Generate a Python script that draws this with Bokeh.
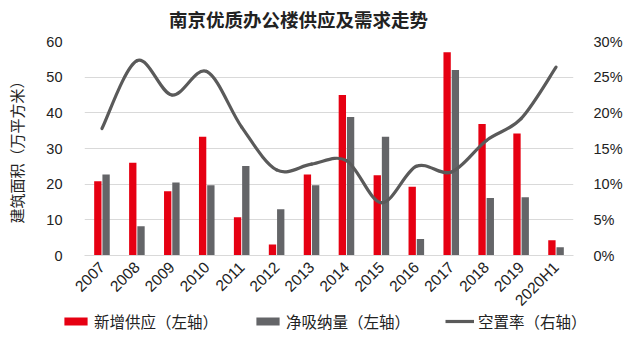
import numpy as np
from bokeh.plotting import figure
from bokeh.layouts import column
from bokeh.models import (Range1d, LinearAxis, FixedTicker, NumeralTickFormatter,
                          Legend, LegendItem, Label)
from bokeh.embed import file_html
from bokeh.resources import INLINE
from math import pi

years = ["2007", "2008", "2009", "2010", "2011", "2012", "2013", "2014",
         "2015", "2016", "2017", "2018", "2019", "2020H1"]
new_supply = [20.8, 26.0, 18.0, 33.3, 10.7, 3.1, 22.7, 45.0, 22.5, 19.3, 57.0, 36.9, 34.2, 4.3]
net_absorption = [22.7, 8.2, 20.5, 19.7, 25.1, 13.0, 19.7, 38.8, 33.3, 4.6, 52.0, 16.1, 16.3, 2.3]
vacancy = [0.178, 0.273, 0.225, 0.258, 0.180, 0.120, 0.128, 0.133, 0.074, 0.125, 0.117, 0.161, 0.192, 0.264]

left_ticks = [0, 10, 20, 30, 40, 50, 60]
right_ticks = [0, 0.05, 0.10, 0.15, 0.20, 0.25, 0.30]
legend_labels = ["新增供应（左轴）", "净吸纳量（左轴）", "空置率（右轴）"]
title_text = "南京优质办公楼供应及需求走势"

RED = "#E60012"
GREY = "#646568"
LINE = "#5A5A5A"
TXT = "#222222"
FONT = "Liberation Sans"
CJK = "Noto Sans CJK SC"

p = figure(width=640, height=348, output_backend="svg", toolbar_location=None,
           x_range=Range1d(-0.5, 13.5), y_range=Range1d(0, 60),
           min_border_left=84, min_border_right=67, min_border_top=41, min_border_bottom=93)
p.frame_align = False
p.outline_line_color = None
p.background_fill_color = "white"
p.border_fill_color = "white"
p.extra_y_ranges = {"pct": Range1d(0, 0.30)}

idx = np.arange(len(years))
p.vbar(x=idx - 0.118, top=new_supply, width=0.21, color=RED, line_color=None)
p.vbar(x=idx + 0.118, top=net_absorption, width=0.21, color=GREY, line_color=None)

# smoothed vacancy line (Excel-like bezier smoothing between data points)
xs = idx.astype(float)
ys = np.array(vacancy)
n = len(xs)
x0, y0, x1, y1, cx0, cy0, cx1, cy1 = [], [], [], [], [], [], [], []
for i in range(n - 1):
    xm1, ym1 = (xs[i - 1], ys[i - 1]) if i > 0 else (xs[i], ys[i])
    xp2, yp2 = (xs[i + 2], ys[i + 2]) if i + 2 < n else (xs[i + 1], ys[i + 1])
    x0.append(xs[i]); y0.append(ys[i]); x1.append(xs[i + 1]); y1.append(ys[i + 1])
    cx0.append(xs[i] + (xs[i + 1] - xm1) / 6); cy0.append(ys[i] + (ys[i + 1] - ym1) / 6)
    cx1.append(xs[i + 1] - (xp2 - xs[i]) / 6); cy1.append(ys[i + 1] - (yp2 - ys[i]) / 6)
p.bezier(x0=x0, y0=y0, x1=x1, y1=y1, cx0=cx0, cy0=cy0, cx1=cx1, cy1=cy1,
         line_color=LINE, line_width=3.2, line_cap="round", y_range_name="pct")

# axes
xa = p.xaxis[0]
xa.ticker = FixedTicker(ticks=list(idx))
xa.major_label_overrides = {int(i): y for i, y in zip(idx, years)}
xa.major_label_orientation = pi / 4
xa.major_label_text_font = FONT
xa.major_label_text_font_size = "15.5px"
xa.major_label_text_color = TXT
xa.major_tick_line_color = None
xa.minor_tick_line_color = None
xa.axis_line_color = "#D9D9D9"
xa.major_label_standoff = 3

ya = p.yaxis[0]
ya.ticker = FixedTicker(ticks=left_ticks)
ya.major_label_text_font = FONT
ya.major_label_text_font_size = "14.5px"
ya.major_label_text_color = TXT
ya.major_tick_line_color = None
ya.minor_tick_line_color = None
ya.axis_line_color = None
ya.major_label_standoff = 16
ya.axis_label = "建筑面积（万平方米）"
ya.axis_label_text_font = CJK
ya.axis_label_text_font_size = "15px"
ya.axis_label_text_font_style = "normal"
ya.axis_label_text_color = TXT
ya.axis_label_standoff = 16

ra = LinearAxis(y_range_name="pct", ticker=FixedTicker(ticks=right_ticks),
                formatter=NumeralTickFormatter(format="0%"))
ra.major_label_text_font = FONT
ra.major_label_text_font_size = "14.5px"
ra.major_label_text_color = TXT
ra.major_tick_line_color = None
ra.minor_tick_line_color = None
ra.axis_line_color = None
ra.major_label_standoff = 14
p.add_layout(ra, "right")

p.xgrid.grid_line_color = None
p.ygrid.grid_line_color = "#D9D9D9"
p.ygrid.grid_line_width = 1
p.ygrid.ticker = FixedTicker(ticks=left_ticks)

# transparent overlay (whole page) carrying the title and the legend
lg = figure(width=640, height=348, output_backend="svg", toolbar_location=None,
            x_range=Range1d(0, 1), y_range=Range1d(0, 1),
            x_axis_type=None, y_axis_type=None, min_border=0,
            margin=(-348, 0, 0, 0))
lg.frame_align = False
lg.outline_line_color = None
lg.background_fill_color = None
lg.border_fill_color = None
lg.xgrid.grid_line_color = None
lg.ygrid.grid_line_color = None
g1 = lg.vbar(x=[5], top=[1], width=0.1, color=RED, line_color=None)
g2 = lg.vbar(x=[5], top=[1], width=0.1, color=GREY, line_color=None)
g3 = lg.line(x=[5, 6], y=[5, 5], line_color=LINE, line_width=3.2)
legend = Legend(items=[LegendItem(label=legend_labels[0], renderers=[g1]),
                       LegendItem(label=legend_labels[1], renderers=[g2]),
                       LegendItem(label=legend_labels[2], renderers=[g3])],
                orientation="horizontal", location=(61, 16),
                glyph_width=29, glyph_height=10, label_standoff=4, spacing=35,
                padding=0, margin=0, border_line_color=None, background_fill_alpha=0,
                label_text_font=CJK, label_text_font_size="15.5px", label_text_color=TXT,
                label_height=18)
lg.add_layout(legend, "center")
lg.add_layout(Label(x=298, y=330, x_units="screen", y_units="screen", text=title_text,
                    text_align="center", text_baseline="middle", text_font=CJK,
                    text_font_size="18.5px", text_font_style="bold", text_color=TXT))

open("out.html", "w").write(file_html(column(p, lg, spacing=0), INLINE))
